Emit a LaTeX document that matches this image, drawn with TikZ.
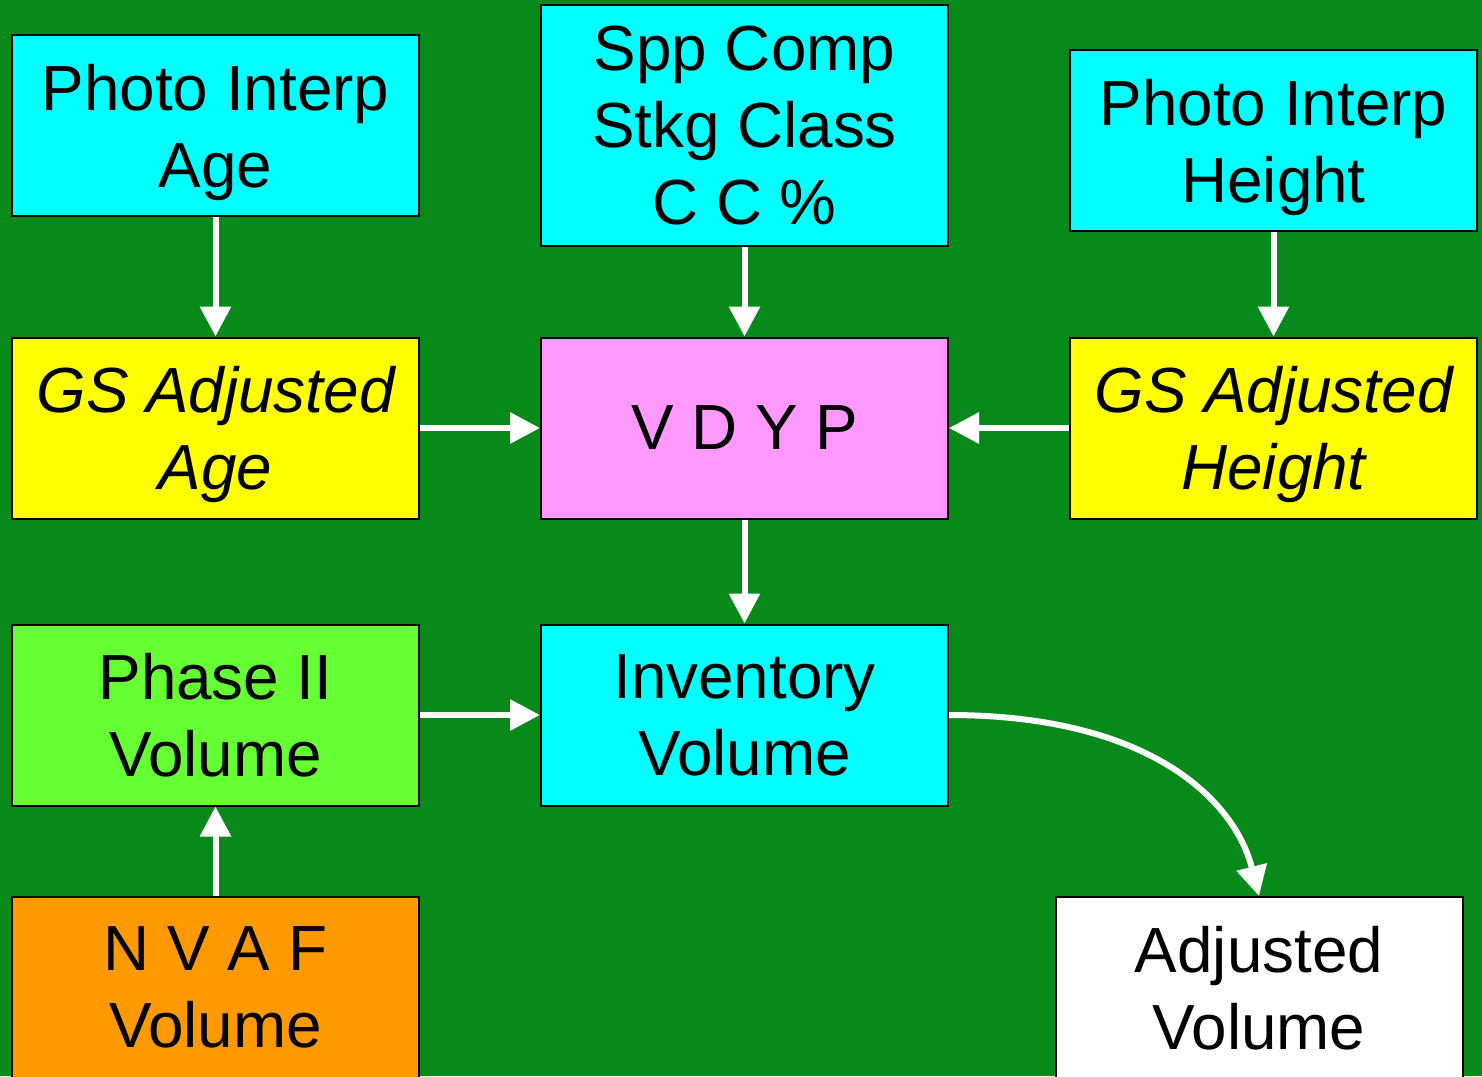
\documentclass[tikz,border=0pt]{standalone}
\usepackage{fontspec}
\setmainfont{Liberation Sans}
\usetikzlibrary{positioning,arrows.meta}
\definecolor{bggreen}{RGB}{7,138,26}
\definecolor{boxcyan}{RGB}{0,255,255}
\definecolor{boxyellow}{RGB}{255,255,0}
\definecolor{boxpink}{RGB}{255,153,255}
\definecolor{boxlime}{RGB}{102,255,51}
\definecolor{boxorange}{RGB}{255,153,0}

\begin{document}
\begin{tikzpicture}[
    box/.style={draw=black,line width=0.04cm,minimum width=8.14cm,minimum height=3.62cm,
        align=center,inner sep=0pt,text depth=0pt,font=\fontsize{36.3}{43.8}\selectfont},
    flow/.style={-{Triangle[width=0.6cm,length=0.6cm]},white,line width=0.12cm}]
    % Background
    \fill[bggreen] (0,0) rectangle (29.64,-21.52);
    \useasboundingbox (0,0) rectangle (29.64,-21.52);

    % Inputs
    \node[box,fill=boxcyan] (piage) at (4.31,-2.51) {Photo Interp\\Age};
    \node[box,fill=boxcyan,minimum height=4.82cm] (spp) at (14.89,-2.51) {Spp Comp\\Stkg Class\\C C \%};
    \node[box,fill=boxcyan] (piht) at (25.47,-2.81) {Photo Interp\\Height};

    % Adjusted inputs and model
    \node[box,fill=boxyellow,font=\fontsize{36.3}{43.8}\selectfont\itshape] (gsage) at (4.31,-8.56) {GS Adjusted\\Age};
    \node[box,fill=boxpink] (vdyp) at (14.89,-8.56) {V D Y P};
    \node[box,fill=boxyellow,font=\fontsize{36.3}{43.8}\selectfont\itshape] (gsht) at (25.47,-8.56) {GS Adjusted\\Height};

    % Volumes
    \node[box,fill=boxlime] (phase) at (4.31,-14.30) {Phase II\\Volume};
    \node[box,fill=boxcyan] (inv) at (14.89,-14.30) {Inventory\\Volume};
    \node[box,fill=boxorange] (nvaf) at (4.31,-19.75) {N V A F\\Volume};
    \node[box,fill=white] (adj) at (25.18,-19.75) {Adjusted\\Volume};

    % Arrows
    \draw[flow] (piage) -- (gsage);
    \draw[flow] (spp) -- (vdyp);
    \draw[flow] (piht) -- (gsht);
    \draw[flow] (gsage) -- (vdyp);
    \draw[flow] (gsht) -- (vdyp);
    \draw[flow] (vdyp) -- (inv);
    \draw[flow] (phase) -- (inv);
    \draw[flow] (nvaf) -- (phase);
    \draw[flow] (inv.east) .. controls +(4.04,0) and +(-0.48,1.9) .. (adj.north);
\end{tikzpicture}
\end{document}
